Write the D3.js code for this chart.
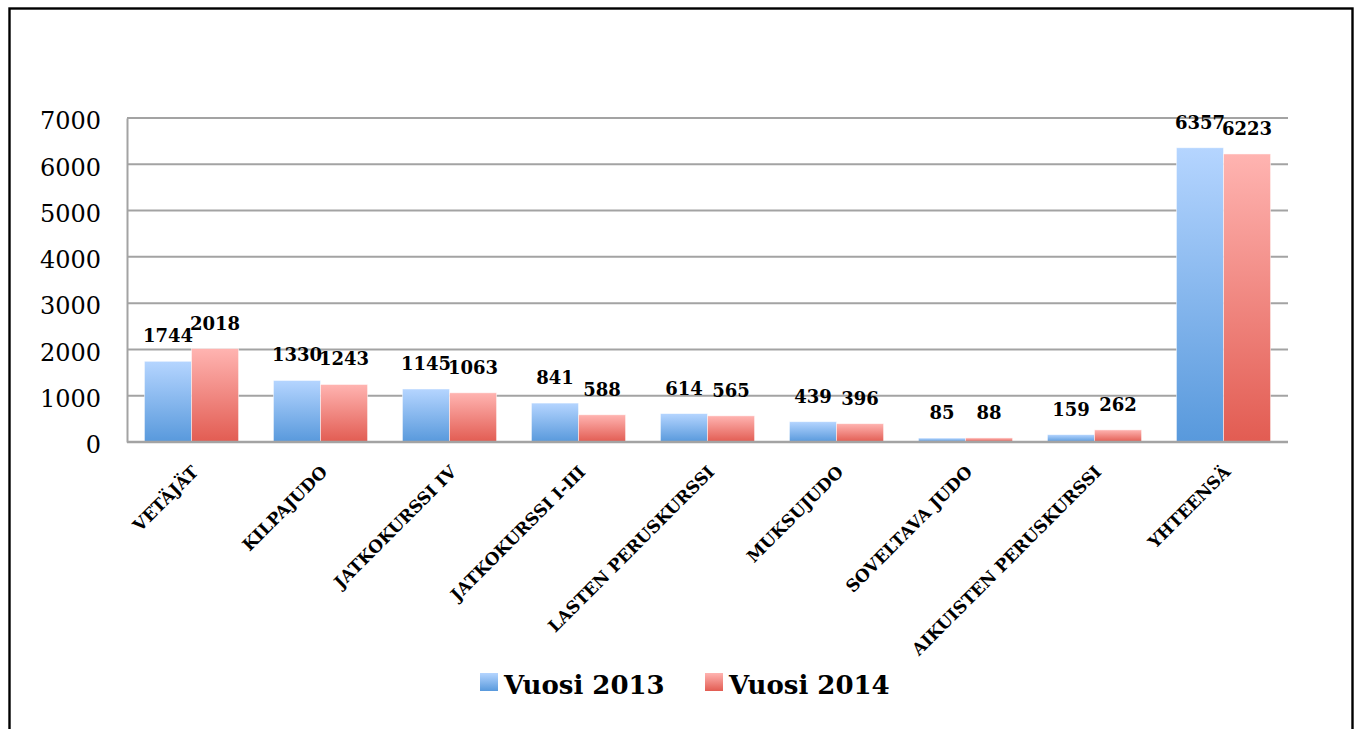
<!DOCTYPE html>
<html>
<head>
<meta charset="utf-8">
<script src="https://cdn.jsdelivr.net/npm/d3@7"></script>
<style>
  html, body { margin: 0; padding: 0; background: #fff; }
  svg { display: block; }
  text { font-family: "DejaVu Serif", serif; fill: #000; }
</style>
</head>
<body>
<div id="chart"></div>
<script>
// Judo course participants, 2013 vs 2014.
const categories = ['VETÄJÄT', 'KILPAJUDO', 'JATKOKURSSI IV', 'JATKOKURSSI I-III', 'LASTEN PERUSKURSSI', 'MUKSUJUDO', 'SOVELTAVA JUDO', 'AIKUISTEN PERUSKURSSI', 'YHTEENSÄ'];
const seriesNames = ['Vuosi 2013', 'Vuosi 2014'];
const values2013 = [1744, 1330, 1145, 841, 614, 439, 85, 159, 6357];
const values2014 = [2018, 1243, 1063, 588, 565, 396, 88, 262, 6223];
const yTicks = [0, 1000, 2000, 3000, 4000, 5000, 6000, 7000];

(function(){
  const width = 1359, height = 729;
  const svg = d3.select('#chart').append('svg')
    .attr('width', width)
    .attr('height', height);

  // Gradients: light at the top of each bar, darker at the bottom.
  const defs = svg.append('defs');
  const gradients = [
    {id: 'grad-blue', top: '#b5d5ff', bottom: '#5899dc'},
    {id: 'grad-red', top: '#ffb4b1', bottom: '#e25c52'}
  ];
  gradients.forEach(g => {
    const lg = defs.append('linearGradient')
      .attr('id', g.id)
      .attr('x1', 0).attr('y1', 0).attr('x2', 0).attr('y2', 1);
    lg.append('stop').attr('offset', '0%').attr('stop-color', g.top);
    lg.append('stop').attr('offset', '100%').attr('stop-color', g.bottom);
  });
  const fills = gradients.map(g => `url(#${g.id})`);

  // Outer frame (runs past the bottom edge like the original).
  svg.append('rect')
    .attr('x', 9.5).attr('y', 8.5)
    .attr('width', 1343).attr('height', 740)
    .attr('fill', 'none')
    .attr('stroke', '#000')
    .attr('stroke-width', 2.4);

  const plotLeft = 127, plotRight = 1288, plotTop = 118, plotBottom = 442;

  const x = d3.scaleBand()
    .domain(categories)
    .range([plotLeft, plotRight])
    .paddingInner(0.27)
    .paddingOuter(0.135);

  const x1 = d3.scaleBand()
    .domain(seriesNames)
    .range([0, x.bandwidth()]);

  const y = d3.scaleLinear()
    .domain([0, 7000])
    .range([plotBottom, plotTop]);

  // Horizontal gridlines.
  svg.append('g').selectAll('line')
    .data(yTicks.filter(d => d > 0))
    .join('line')
    .attr('x1', plotLeft).attr('x2', plotRight)
    .attr('y1', d => y(d)).attr('y2', d => y(d))
    .attr('stroke', '#a3a3a3')
    .attr('stroke-width', 2);

  // Y axis: only labels and the vertical rule.
  const yAxis = svg.append('g')
    .attr('transform', `translate(${plotLeft},0)`)
    .call(d3.axisLeft(y).tickValues(yTicks).tickSize(0).tickPadding(26).tickFormat(d3.format('d')));
  yAxis.select('.domain').attr('stroke', '#a3a3a3').attr('stroke-width', 2);
  yAxis.selectAll('text')
    .attr('font-family', '"DejaVu Serif", serif')
    .attr('font-size', 24)
    .attr('dy', '0.45em')
    .attr('fill', '#000');

  // Bars
  const series = [values2013, values2014];
  const groups = svg.append('g').selectAll('g')
    .data(categories)
    .join('g')
    .attr('transform', d => `translate(${x(d)},0)`);

  groups.selectAll('rect')
    .data((d, i) => series.map((vals, s) => ({key: seriesNames[s], s, value: vals[i]})))
    .join('rect')
    .attr('x', d => x1(d.key))
    .attr('width', x1.bandwidth())
    .attr('y', d => y(d.value))
    .attr('height', d => y(0) - y(d.value))
    .attr('fill', d => fills[d.s])
    .attr('stroke', 'rgba(255,255,255,0.6)')
    .attr('stroke-width', 0.8);

  // Value labels
  groups.selectAll('text.value')
    .data((d, i) => series.map((vals, s) => ({key: seriesNames[s], value: vals[i]})))
    .join('text')
    .attr('class', 'value')
    .attr('x', d => x1(d.key) + x1.bandwidth() / 2)
    .attr('y', d => y(d.value) - 19)
    .attr('text-anchor', 'middle')
    .attr('font-size', 18)
    .attr('font-weight', 'bold')
    .text(d => d.value);

  // X axis line
  svg.append('line')
    .attr('x1', plotLeft).attr('x2', plotRight)
    .attr('y1', plotBottom).attr('y2', plotBottom)
    .attr('stroke', '#a3a3a3')
    .attr('stroke-width', 2.5);

  // Rotated category labels
  svg.append('g').selectAll('text')
    .data(categories)
    .join('text')
    .attr('transform', d => `translate(${x(d) + x.bandwidth() / 2 + 8},${plotBottom + 31}) rotate(-45)`)
    .attr('text-anchor', 'end')
    .attr('font-size', 17)
    .attr('font-weight', 'bold')
    .text(d => d);

  // Legend
  const legendItems = [
    {name: seriesNames[0], x: 480},
    {name: seriesNames[1], x: 705}
  ];
  const legend = svg.append('g').selectAll('g')
    .data(legendItems)
    .join('g')
    .attr('transform', d => `translate(${d.x},673)`);
  legend.append('rect')
    .attr('width', 18).attr('height', 18)
    .attr('fill', (d, i) => fills[i]);
  legend.append('text')
    .attr('x', 24).attr('y', 21)
    .attr('font-size', 26)
    .attr('font-weight', 'bold')
    .text(d => d.name);
})();
</script>
</body>
</html>
